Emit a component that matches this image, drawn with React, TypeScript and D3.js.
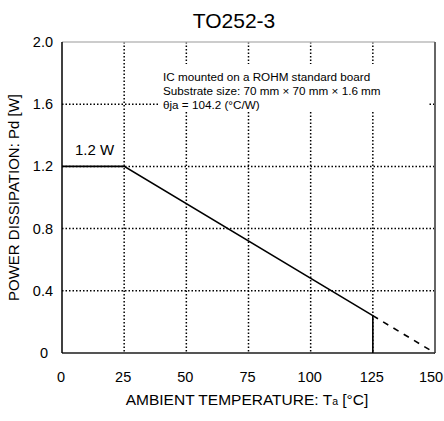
import React from "react";
import * as d3 from "d3";

const title = "TO252-3";
const xTicks = [0, 25, 50, 75, 100, 125, 150];
const yTicks = [0, 0.4, 0.8, 1.2, 1.6, 2.0];
const solidTemp = [0, 25, 125];
const solidPower = [1.2, 1.2, 0.24];
const dashTemp = [125, 150];
const dashPower = [0.24, 0];
const notes = [
  "IC mounted on a ROHM standard board",
  "Substrate size: 70 mm \u00d7 70 mm \u00d7 1.6 mm",
  "\u03b8ja = 104.2 (\u00b0C/W)",
];

const W = 444;
const H = 421;
const font = "'Liberation Sans', Arial, sans-serif";

export default function App() {
  const x = d3.scaleLinear().domain([0, 150]).range([62, 435]);
  const y = d3.scaleLinear().domain([0, 2]).range([353, 42]);

  const line = d3
    .line<[number, number]>()
    .x((d) => x(d[0]))
    .y((d) => y(d[1]));

  const solid = solidTemp.map((t, i) => [t, solidPower[i]] as [number, number]);
  const dashed = dashTemp.map((t, i) => [t, dashPower[i]] as [number, number]);

  return (
    <svg
      width={W}
      height={H}
      style={{ position: "absolute", left: 0, top: 0 }}
      fontFamily={font}
    >
      <rect width={W} height={H} fill="#fff" />
      <text x={234} y={28} fontSize={21} textAnchor="middle">
        {title}
      </text>

      {/* grid */}
      {xTicks.slice(1, -1).map((t) => (
        <line
          key={"gx" + t}
          x1={x(t)}
          x2={x(t)}
          y1={y(2)}
          y2={y(0)}
          stroke="#000"
          strokeWidth={1.5}
          strokeDasharray="1.5,2"
        />
      ))}
      {yTicks.slice(1, -1).map((v) => (
        <line
          key={"gy" + v}
          x1={x(0)}
          x2={x(150)}
          y1={y(v)}
          y2={y(v)}
          stroke="#000"
          strokeWidth={1.5}
          strokeDasharray="1.5,2"
        />
      ))}

      {/* note box */}
      <rect x={158} y={64} width={270} height={48} fill="#fff" />
      {notes.map((n, i) => (
        <text key={i} x={163} y={81 + i * 14} fontSize={11.7}>
          {n}
        </text>
      ))}

      {/* frame */}
      <line x1={x(0)} x2={x(150)} y1={y(2)} y2={y(2)} stroke="#bbb" strokeWidth={1.5} />
      <line x1={x(150)} x2={x(150)} y1={y(2)} y2={y(0)} stroke="#666" strokeWidth={2} />
      <line x1={x(0)} x2={x(150)} y1={y(0)} y2={y(0)} stroke="#555" strokeWidth={2} />
      <line x1={x(0)} x2={x(0)} y1={y(2)} y2={y(0)} stroke="#000" strokeWidth={1.5} />

      {/* curves */}
      <path d={line(solid) ?? ""} fill="none" stroke="#000" strokeWidth={1.6} />
      <path
        d={line(dashed) ?? ""}
        fill="none"
        stroke="#000"
        strokeWidth={1.6}
        strokeDasharray="6,6"
      />
      <line
        x1={x(125)}
        x2={x(125)}
        y1={y(0.24)}
        y2={y(0)}
        stroke="#000"
        strokeWidth={1.6}
      />
      <text x={75} y={155} fontSize={15}>
        1.2 W
      </text>

      {/* axes labels */}
      {yTicks.map((v) => (
        <text
          key={"yl" + v}
          x={v === 0 ? 48 : 53}
          y={y(v) + 5}
          fontSize={14.5}
          textAnchor="end"
        >
          {v === 0 ? "0" : v.toFixed(1)}
        </text>
      ))}
      {xTicks.map((t) => (
        <text
          key={"xl" + t}
          x={t === 150 ? x(t) - 4 : x(t) - 1}
          y={382}
          fontSize={14.5}
          textAnchor="middle"
        >
          {t}
        </text>
      ))}
      <text x={247} y={405} fontSize={15.5} textAnchor="middle">
        AMBIENT TEMPERATURE: T
        <tspan fontSize={10.5}>a</tspan> [°C]
      </text>
      <text
        transform={`translate(19,${y(1)}) rotate(-90)`}
        fontSize={15}
        textAnchor="middle"
      >
        POWER DISSIPATION: Pd [W]
      </text>
    </svg>
  );
}
